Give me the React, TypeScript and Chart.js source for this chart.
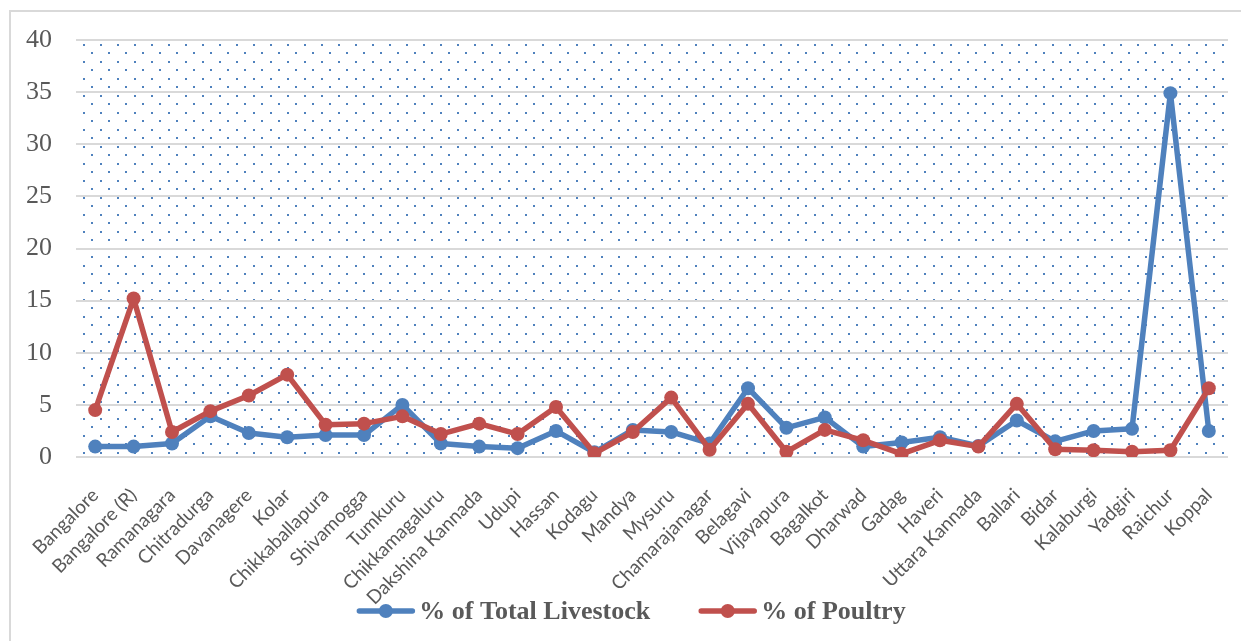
import React, { useEffect, useRef } from "react";
import { Chart, registerables } from "chart.js";

Chart.register(...registerables);

const districts = [
  "Bangalore", "Bangalore (R)", "Ramanagara", "Chitradurga", "Davanagere", "Kolar",
  "Chikkaballapura", "Shivamogga", "Tumkuru", "Chikkamagaluru", "Dakshina Kannada", "Udupi",
  "Hassan", "Kodagu", "Mandya", "Mysuru", "Chamarajanagar", "Belagavi", "Vijayapura",
  "Bagalkot", "Dharwad", "Gadag", "Haveri", "Uttara Kannada", "Ballari", "Bidar",
  "Kalaburgi", "Yadgiri", "Raichur", "Koppal",
];

const livestockPct = [
  1.0, 1.0, 1.3, 3.9, 2.3, 1.9, 2.1, 2.1, 5.0, 1.3, 1.0, 0.85, 2.5, 0.45, 2.6,
  2.4, 1.3, 6.6, 2.8, 3.8, 1.0, 1.4, 1.9, 1.05, 3.5, 1.5, 2.5, 2.7, 34.9, 2.5,
];

const poultryPct = [
  4.5, 15.2, 2.4, 4.4, 5.9, 7.9, 3.1, 3.2, 3.9, 2.2, 3.2, 2.2, 4.8, 0.35, 2.4,
  5.7, 0.7, 5.1, 0.5, 2.6, 1.6, 0.3, 1.6, 1.0, 5.1, 0.75, 0.65, 0.5, 0.65, 6.6,
];

const yMin = 0;
const yMax = 40;
const yStep = 5;

const seriesNames = ["% of Total Livestock", "% of Poultry"];

const BLUE = "#4F81BD";
const RED = "#C0504D";
const TEXT = "#595959";
const GRID = "#D9D9D9";

const dotsPlugin = {
  id: "dotsBackground",
  beforeDraw(chart: any) {
    const { ctx, chartArea: a } = chart;
    const tile = document.createElement("canvas");
    tile.width = 17;
    tile.height = 17;
    const t = tile.getContext("2d")!;
    t.fillStyle = BLUE;
    t.fillRect(0, 0, 2, 2);
    t.fillRect(8, 8, 2, 2);
    const pattern = ctx.createPattern(tile, "repeat");
    pattern.setTransform(new DOMMatrix().translate(a.left + 7, a.top + 4));
    ctx.save();
    ctx.fillStyle = pattern;
    ctx.fillRect(a.left, a.top, a.right - a.left, a.bottom - a.top);
    ctx.restore();
  },
};

const legendPlugin = {
  id: "lineLegend",
  afterDraw(chart: any) {
    const { ctx } = chart;
    const colors = [BLUE, RED];
    const lineLen = 57;
    const textGap = 5;
    const itemGap = 49;
    const y = 611;
    ctx.save();
    ctx.font = "bold 26px 'Liberation Serif'";
    ctx.textBaseline = "middle";
    ctx.textAlign = "left";
    const widths = seriesNames.map((s) => lineLen + textGap + ctx.measureText(s).width);
    const total = widths.reduce((p, c) => p + c, 0) + itemGap * (seriesNames.length - 1);
    let x = chart.width / 2 + 11 - total / 2;
    seriesNames.forEach((name, i) => {
      ctx.strokeStyle = colors[i];
      ctx.fillStyle = colors[i];
      ctx.lineWidth = 5.5;
      ctx.lineCap = "round";
      ctx.beginPath();
      ctx.moveTo(x + 2, y);
      ctx.lineTo(x + lineLen - 2, y);
      ctx.stroke();
      ctx.beginPath();
      ctx.arc(x + lineLen / 2, y, 7, 0, Math.PI * 2);
      ctx.fill();
      ctx.fillStyle = TEXT;
      ctx.fillText(name, x + lineLen + textGap, y + 1);
      x += widths[i] + itemGap;
    });
    ctx.restore();
  },
};

export default function App() {
  const canvasRef = useRef<HTMLCanvasElement | null>(null);

  useEffect(() => {
    const canvas = canvasRef.current;
    if (!canvas) return;
    const common = {
      borderWidth: 5.5,
      pointRadius: 7,
      pointBorderWidth: 0,
      tension: 0,
      borderJoinStyle: "round" as const,
      borderCapStyle: "round" as const,
    };
    const chart = new Chart(canvas, {
      type: "line",
      data: {
        labels: districts,
        datasets: [
          {
            ...common,
            label: seriesNames[0],
            data: livestockPct,
            borderColor: BLUE,
            backgroundColor: BLUE,
            pointBackgroundColor: BLUE,
            pointBorderColor: BLUE,
            order: 1,
          },
          {
            ...common,
            label: seriesNames[1],
            data: poultryPct,
            borderColor: RED,
            backgroundColor: RED,
            pointBackgroundColor: RED,
            pointBorderColor: RED,
            order: 0,
          },
        ],
      },
      options: {
        animation: false,
        responsive: false,
        devicePixelRatio: 1,
        layout: { padding: { left: 10, top: 40, right: 13, bottom: 0 } },
        plugins: {
          legend: { display: false },
          tooltip: { enabled: false },
        },
        scales: {
          x: {
            offset: true,
            grid: { display: false, drawTicks: false },
            border: { display: false },
            ticks: {
              color: TEXT,
              font: { family: "Lato", size: 19 },
              minRotation: 45,
              maxRotation: 45,
              padding: 27,
              autoSkip: false,
            },
            afterFit: (scale: any) => {
              scale.height = 184;
              scale.paddingLeft = 0;
              scale.paddingRight = 0;
            },
          },
          y: {
            min: yMin,
            max: yMax,
            grid: { color: GRID, lineWidth: 2, drawTicks: false },
            border: { display: false },
            ticks: {
              stepSize: yStep,
              color: TEXT,
              font: { family: "Liberation Serif", size: 26 },
              padding: 24,
            },
            afterFit: (scale: any) => {
              scale.width = 66;
              scale.paddingTop = 0;
              scale.paddingBottom = 0;
            },
          },
        },
      },
      plugins: [dotsPlugin, legendPlugin],
    });
    return () => chart.destroy();
  }, []);

  return (
    <div style={{ position: "fixed", left: 0, top: 0, width: 1241, height: 641, background: "#fff", overflow: "hidden" }}>
      <div
        style={{
          position: "absolute",
          left: 9,
          top: 10,
          width: 1240,
          height: 640,
          border: "2px solid #D9D9D9",
          boxSizing: "border-box",
        }}
      />
      <canvas ref={canvasRef} width={1241} height={641} style={{ position: "absolute", left: 0, top: 0 }} />
    </div>
  );
}
